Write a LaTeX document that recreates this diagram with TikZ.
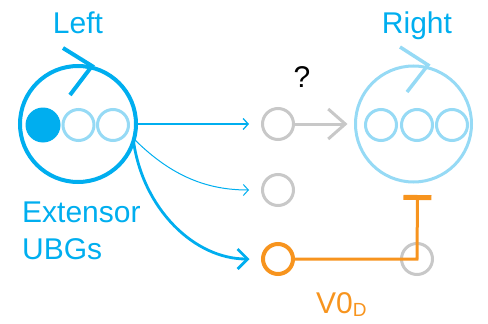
\documentclass[tikz,border=0pt]{standalone}
\usepackage{fontspec}
\setmainfont{Liberation Sans}
\usetikzlibrary{arrows.meta}
\definecolor{cyanb}{RGB}{0,174,239}
\definecolor{lightb}{RGB}{150,218,245}
\definecolor{grayc}{RGB}{200,200,200}
\definecolor{orangec}{RGB}{247,148,30}
\begin{document}
\begin{tikzpicture}[x=1pt,y=-1pt,
  big/.style={circle, draw, minimum size=116pt, inner sep=0pt, outer sep=0pt},
  small/.style={circle, draw, minimum size=31pt, inner sep=0pt, outer sep=0pt, line width=3pt},
  lbl/.style={font=\fontsize{30}{30}\selectfont, anchor=base, inner sep=0pt},
  bluearrow/.style={cyanb, line width=1.3pt, -{Straight Barb[length=5pt,width=11pt]}, shorten >=13.5pt},
  chev/.style={line width=4pt}]
\useasboundingbox (0,0) rectangle (488,324);
% left big circle
\node[big, draw=cyanb, line width=4pt] (L) at (78,124) {};
\node[circle, fill=cyanb, minimum size=35pt, inner sep=0pt] (l1) at (43,125) {};
\node[small, draw=lightb] (l2) at (78.5,125) {};
\node[small, draw=lightb] (l3) at (113,125) {};
\draw[cyanb, chev] (63,48) -- (92,66) -- (70,95);
\node[lbl, text=cyanb] (tl) at (78,33) {Left};
% right big circle
\node[big, draw=lightb, line width=3pt] (R) at (413.5,124) {};
\node[small, draw=lightb] (r1) at (381,125) {};
\node[small, draw=lightb] (r2) at (417,125) {};
\node[small, draw=lightb] (r3) at (452,125) {};
\draw[lightb, line width=3.5pt] (400,47) -- (428,65) -- (407,92);
\node[lbl, text=cyanb] (tr) at (417,33) {Right};
% gray circles
\node[small, draw=grayc] (g1) at (278,124) {};
\node[small, draw=grayc] (g2) at (278,190) {};
\node[small, draw=grayc] (g3) at (417,259) {};
\node[small, draw=orangec, line width=4pt, minimum size=30pt] (o1) at (278,259) {};
\node[lbl, text=black] (q) at (302,87) {?};
% labels
\node[lbl, anchor=base west, text=cyanb] (ext) at (22,222) {Extensor};
\node[lbl, anchor=base west, text=cyanb] (ubg) at (22,259) {UBGs};
\node[lbl, anchor=base west, text=orangec] (v0) at (316,313) {V0\raisebox{-3pt}{\fontsize{19}{19}\selectfont D}};
% connectors
\draw[bluearrow] (L) -- (g1);
\draw[bluearrow, line width=1pt] (L.-15) to[out=-45,in=180] (g2.west);
\draw[cyanb, line width=2.8pt, -{Straight Barb[length=10pt,width=20pt]}, shorten >=13.5pt] (L.-17) to[out=-82,in=180] (o1.west);
\draw[grayc, line width=3pt, -{Straight Barb[length=17pt,width=30pt]}, shorten >=8pt] (g1) -- (R);
\coordinate (tee) at (417.5,195);
\draw[orangec, line width=3pt, -{Bar[width=28pt,line width=5pt]}] (o1) -- (g3.center) -- (tee);
\end{tikzpicture}
\end{document}
